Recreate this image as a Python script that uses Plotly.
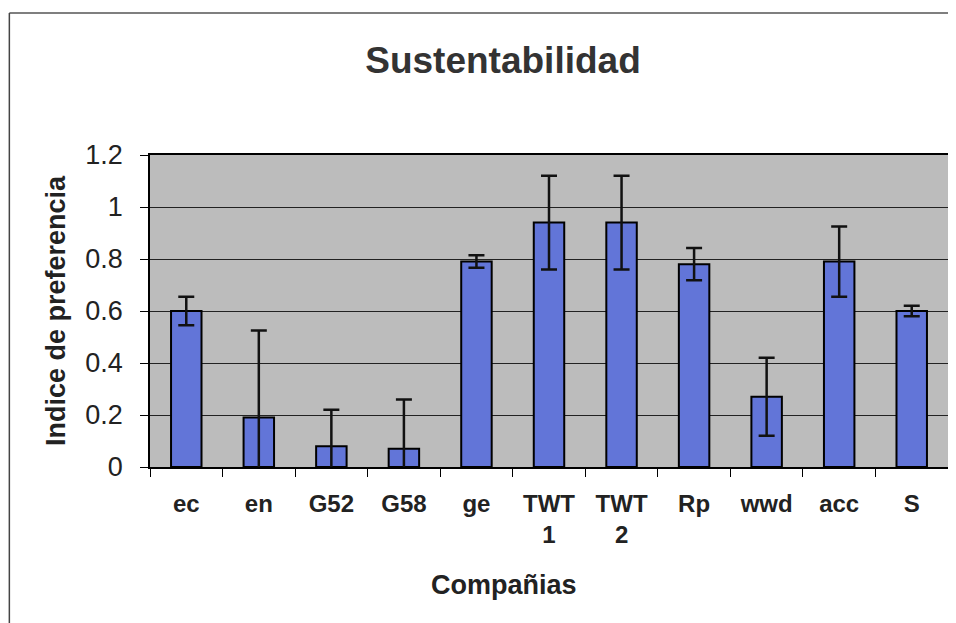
import plotly.graph_objects as go

# Datos
companias = ["ec", "en", "G52", "G58", "ge", "TWT<br>1", "TWT<br>2", "Rp", "wwd", "acc", "S"]
indice = [0.60, 0.19, 0.08, 0.07, 0.79, 0.94, 0.94, 0.78, 0.27, 0.79, 0.60]
error = [0.055, 0.335, 0.14, 0.19, 0.024, 0.18, 0.18, 0.062, 0.15, 0.135, 0.02]
y_ticks = [0, 0.2, 0.4, 0.6, 0.8, 1.0, 1.2]
y_tick_labels = ["0", "0.2", "0.4", "0.6", "0.8", "1", "1.2"]

FONT = "Liberation Sans, Arial, sans-serif"
INK = "#222222"

# la página tiene un margen de 8px en el body
W, H = 948, 615

fig = go.Figure()
fig.add_trace(go.Bar(
    x=companias,
    y=indice,
    marker=dict(color="#6275d8", line=dict(color="black", width=2)),
    error_y=dict(type="data", array=error, color="#111111", thickness=2.5, width=8),
    cliponaxis=True,
))

# marco exterior del gráfico (solo arriba y a la izquierda quedan visibles)
top_frame = (459 - 5) / 312
left_frame = -141 / 800
fig.add_shape(
    type="line", xref="paper", yref="paper",
    x0=left_frame, x1=1.0, y0=top_frame, y1=top_frame,
    line=dict(color="#555555", width=1.5),
)
fig.add_shape(
    type="line", xref="paper", yref="paper",
    x0=left_frame, x1=left_frame, y0=top_frame, y1=-0.6,
    line=dict(color="#444444", width=1.5),
)

fig.add_annotation(
    text="<b>Compañias</b>", xref="paper", yref="paper",
    x=(505 - 150) / 800, y=-(585 - 467) / 312,
    xanchor="center", yanchor="middle", showarrow=False,
    font=dict(size=27, color=INK, family=FONT),
)

fig.update_layout(
    width=W,
    height=H,
    font=dict(family=FONT, size=20, color="black"),
    paper_bgcolor="white",
    plot_bgcolor="#bcbcbc",
    title=dict(
        text="<b>Sustentabilidad</b>",
        x=(503 - 8) / W, xref="container", xanchor="center",
        y=1 - (60 - 8) / H, yanchor="middle",
        font=dict(size=37, color="#333333"),
    ),
    margin=dict(l=142, r=6, t=147, b=156),
    bargap=0.58,
    showlegend=False,
)
fig.update_xaxes(
    type="category",
    tickson="boundaries",
    ticks="outside",
    ticklen=8,
    tickcolor="black",
    showline=True,
    linecolor="black",
    linewidth=1.5,
    mirror=True,
    showgrid=False,
    ticklabelstandoff=14,
    tickfont=dict(size=24, color=INK, family=FONT, weight="bold"),
)
fig.update_yaxes(
    range=[0, 1.2],
    tickvals=y_ticks,
    ticktext=y_tick_labels,
    ticks="outside",
    ticklen=8,
    tickcolor="black",
    showline=True,
    linecolor="black",
    linewidth=1.5,
    mirror=True,
    showgrid=True,
    gridcolor="#222222",
    gridwidth=1,
    zeroline=False,
    ticklabelstandoff=12,
    tickfont=dict(size=27, color=INK),
    title=dict(text="<b>Indice de preferencia</b>", font=dict(size=27, color=INK), standoff=12),
)

fig.write_html("out.html")
